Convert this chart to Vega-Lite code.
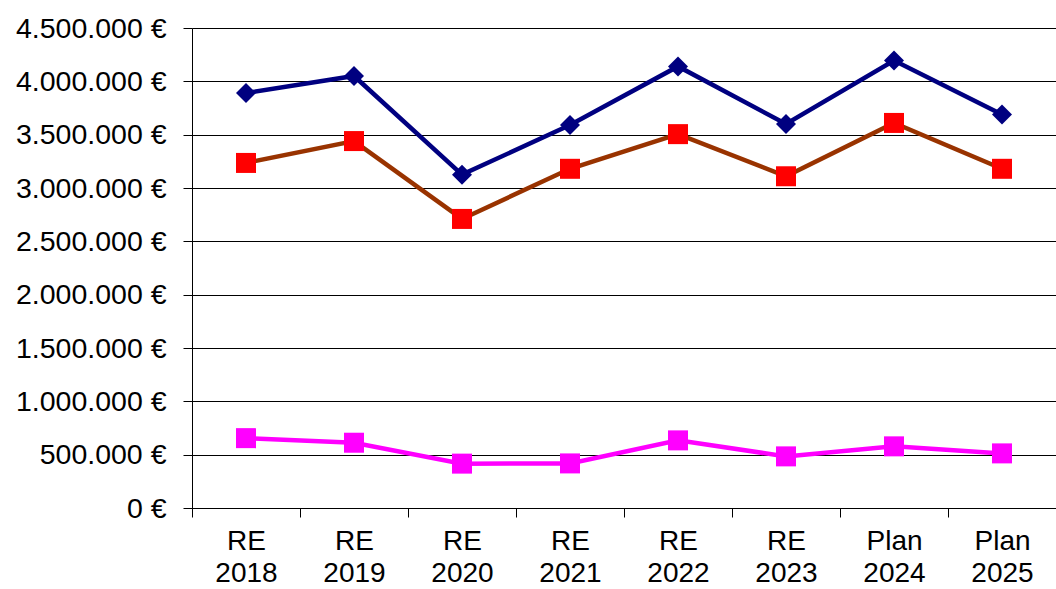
{
  "$schema": "https://vega.github.io/schema/vega-lite/v6.json",
  "width": 864,
  "height": 480,
  "autosize": {"type": "none"},
  "padding": {"left": 192, "top": 28, "right": 0, "bottom": 81},
  "background": "white",
  "config": {"view": {"stroke": null}},
  "data": {"values": [
    {"cat": "RE 2018", "series": "Reihe 1", "value": 3890000},
    {"cat": "RE 2019", "series": "Reihe 1", "value": 4050000},
    {"cat": "RE 2020", "series": "Reihe 1", "value": 3125000},
    {"cat": "RE 2021", "series": "Reihe 1", "value": 3590000},
    {"cat": "RE 2022", "series": "Reihe 1", "value": 4140000},
    {"cat": "RE 2023", "series": "Reihe 1", "value": 3600000},
    {"cat": "Plan 2024", "series": "Reihe 1", "value": 4195000},
    {"cat": "Plan 2025", "series": "Reihe 1", "value": 3690000},
    {"cat": "RE 2018", "series": "Reihe 2", "value": 3235000},
    {"cat": "RE 2019", "series": "Reihe 2", "value": 3440000},
    {"cat": "RE 2020", "series": "Reihe 2", "value": 2710000},
    {"cat": "RE 2021", "series": "Reihe 2", "value": 3180000},
    {"cat": "RE 2022", "series": "Reihe 2", "value": 3505000},
    {"cat": "RE 2023", "series": "Reihe 2", "value": 3110000},
    {"cat": "Plan 2024", "series": "Reihe 2", "value": 3610000},
    {"cat": "Plan 2025", "series": "Reihe 2", "value": 3180000},
    {"cat": "RE 2018", "series": "Reihe 3", "value": 655000},
    {"cat": "RE 2019", "series": "Reihe 3", "value": 612000},
    {"cat": "RE 2020", "series": "Reihe 3", "value": 416000},
    {"cat": "RE 2021", "series": "Reihe 3", "value": 418000},
    {"cat": "RE 2022", "series": "Reihe 3", "value": 634000},
    {"cat": "RE 2023", "series": "Reihe 3", "value": 484000},
    {"cat": "Plan 2024", "series": "Reihe 3", "value": 578000},
    {"cat": "Plan 2025", "series": "Reihe 3", "value": 512000}
  ]},
  "encoding": {
    "x": {
      "field": "cat", "type": "ordinal", "sort": null, "bandPosition": 0.5,
      "scale": {"type": "band", "paddingInner": 0, "paddingOuter": 0},
      "axis": {
        "title": null, "grid": false, "tickBand": "extent",
        "domainColor": "#000", "tickColor": "#000", "tickSize": 9, "tickWidth": 1, "domainWidth": 1,
        "labelAngle": 0, "labelFont": "Liberation Sans", "labelFontSize": 28, "labelColor": "#000",
        "labelExpr": "split(datum.label, ' ')", "labelLineHeight": 32, "labelPadding": 10, "labelBaseline": "top"
      }
    },
    "y": {
      "field": "value", "type": "quantitative",
      "scale": {"domain": [0, 4500000], "nice": false},
      "axis": {
        "title": null,
        "values": [0, 500000, 1000000, 1500000, 2000000, 2500000, 3000000, 3500000, 4000000, 4500000],
        "grid": true, "gridColor": "#000", "gridWidth": 1, "gridOpacity": 1,
        "domainColor": "#000", "tickColor": "#000", "tickSize": 9, "domainWidth": 1,
        "labelFont": "Liberation Sans", "labelFontSize": 28.5, "labelColor": "#000", "labelPadding": 17,
        "labelExpr": "replace(replace(format(datum.value, ','), ',', '.'), ',', '.') + ' €'"
      }
    }
  },
  "layer": [
    {
      "mark": {"type": "line", "strokeWidth": 4.5},
      "encoding": {
        "color": {"field": "series", "type": "nominal", "legend": null,
          "scale": {"domain": ["Reihe 1", "Reihe 2", "Reihe 3"], "range": ["#000080", "#993300", "#FF00FF"]}}
      }
    },
    {
      "mark": {"type": "point", "filled": true, "opacity": 1, "size": 400},
      "encoding": {
        "fill": {"field": "series", "type": "nominal", "legend": null,
          "scale": {"domain": ["Reihe 1", "Reihe 2", "Reihe 3"], "range": ["#000080", "#FF0000", "#FF00FF"]}},
        "shape": {"field": "series", "type": "nominal", "legend": null,
          "scale": {"domain": ["Reihe 1", "Reihe 2", "Reihe 3"], "range": ["diamond", "square", "square"]}}
      }
    }
  ]
}
